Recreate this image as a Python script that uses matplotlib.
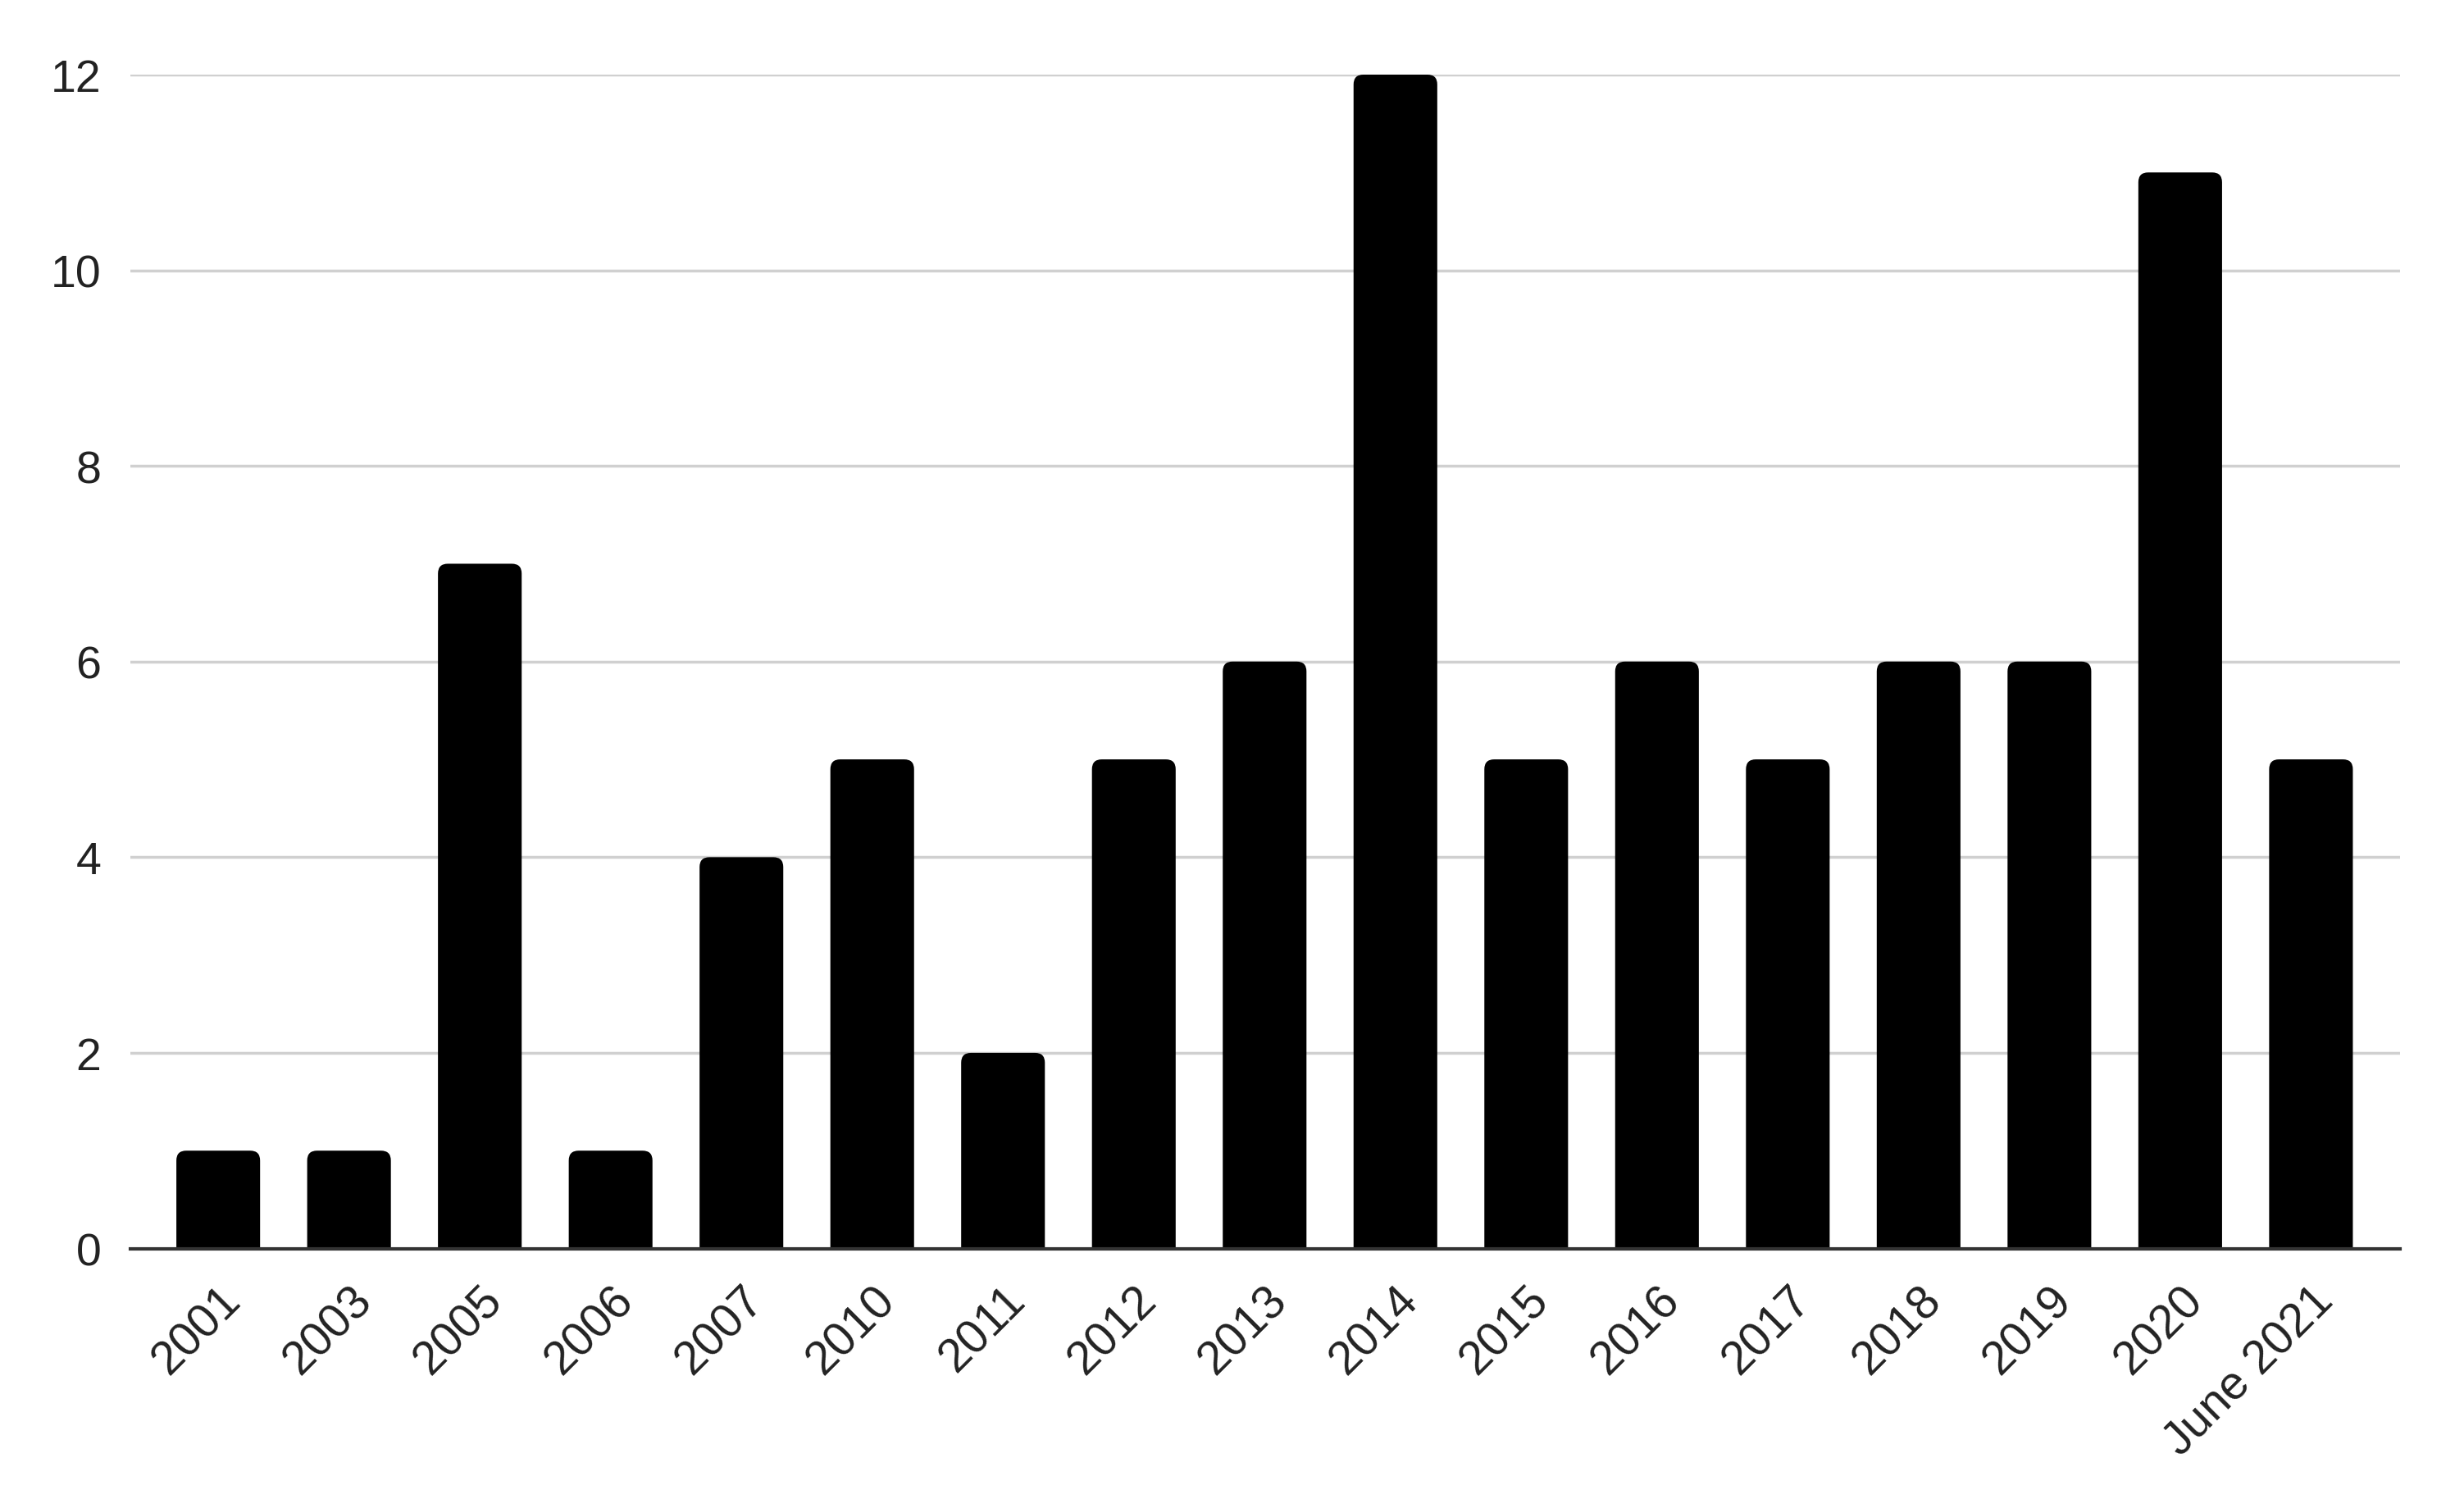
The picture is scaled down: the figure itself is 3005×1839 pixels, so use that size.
import numpy as np
import matplotlib.pyplot as plt
from matplotlib.patches import FancyBboxPatch

years = ["2001", "2003", "2005", "2006", "2007", "2010", "2011", "2012", "2013",
         "2014", "2015", "2016", "2017", "2018", "2019", "2020", "June 2021"]
counts = [1, 1, 7, 1, 4, 5, 2, 5, 6, 12, 5, 6, 5, 6, 6, 11, 5]
yticks = [0, 2, 4, 6, 8, 10, 12]

plt.rcParams['font.family'] = ['Liberation Sans', 'DejaVu Sans']

fig = plt.figure(figsize=(30.05, 18.4), dpi=100)
ax = fig.add_axes([0.053, 0.172, 0.921, 0.778])

x = np.arange(len(years))
bars = ax.bar(x, counts, width=0.64, color='black')

# swap the plain bars for ones with slightly rounded corners
# (the bottom is pushed below zero so only the top corners show)
xunit_px = 0.921 * 3005 / (len(years) - 1 + 0.67 + 0.68)
yunit_px = 0.778 * 1840 / 12
r = 12 / xunit_px
for b in bars:
    b.set_visible(False)
    p = FancyBboxPatch((b.get_x(), -0.3), b.get_width(), b.get_height() + 0.3,
                       boxstyle=f"round,pad=0,rounding_size={r}",
                       mutation_aspect=xunit_px / yunit_px,
                       facecolor='black', edgecolor='none')
    ax.add_patch(p)

ax.set_xlim(-0.67, len(years) - 1 + 0.68)
ax.set_ylim(0, 12)
ax.set_yticks(yticks)
ax.set_xticks(x)
ax.set_xticklabels(years, rotation=45, ha='right', va='top', rotation_mode='anchor')

ax.grid(axis='y', color='#d0d0d0', linewidth=2.5)
ax.set_axisbelow(True)
for s in ['top', 'right', 'left']:
    ax.spines[s].set_visible(False)
ax.spines['bottom'].set_color('#333333')
ax.spines['bottom'].set_linewidth(3)
ax.spines['bottom'].set_zorder(5)
ax.tick_params(axis='both', length=0, colors='#222222')
ax.tick_params(axis='y', pad=26, labelsize=40)
ax.tick_params(axis='x', pad=26, labelsize=41)

fig.savefig('out.png', dpi=100, facecolor='white')
